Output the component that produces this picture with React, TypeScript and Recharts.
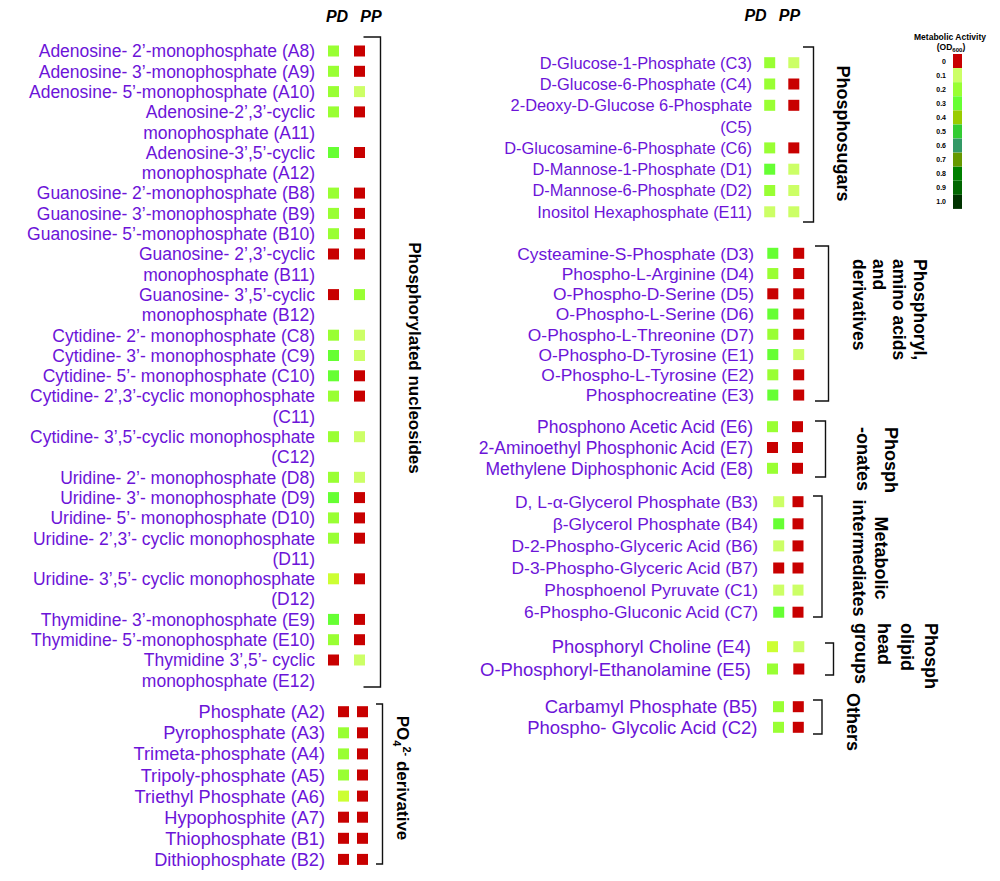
import React from "react";
import {
  Bar,
  BarChart,
  Cell,
  ReferenceArea,
  Scatter,
  ScatterChart,
  XAxis,
  YAxis,
} from "recharts";

const W = 1000;
const H = 881;
const FONT = '"Liberation Sans", Arial, Helvetica, sans-serif';
const PURPLE = "#6C14D8";

// colour key, OD600
const legendLevels = ["0", "0.1", "0.2", "0.3", "0.4", "0.5", "0.6", "0.7", "0.8", "0.9", "1.0"];
const legendColors = [
  "#C80000", "#CCFF66", "#99FF33", "#66FF33", "#99CC00", "#33CC33",
  "#339966", "#669900", "#008000", "#006600", "#003300",
];

// --- Phosphorylated nucleosides ---
const nucLabels = [
  "Adenosine- 2’-monophosphate (A8)",
  "Adenosine- 3’-monophosphate (A9)",
  "Adenosine- 5’-monophosphate (A10)",
  "Adenosine-2’,3’-cyclic\nmonophosphate (A11)",
  "Adenosine-3’,5’-cyclic\nmonophosphate (A12)",
  "Guanosine- 2’-monophosphate (B8)",
  "Guanosine- 3’-monophosphate (B9)",
  "Guanosine- 5’-monophosphate (B10)",
  "Guanosine- 2’,3’-cyclic\nmonophosphate (B11)",
  "Guanosine- 3’,5’-cyclic\nmonophosphate (B12)",
  "Cytidine- 2’- monophosphate (C8)",
  "Cytidine- 3’- monophosphate (C9)",
  "Cytidine- 5’- monophosphate (C10)",
  "Cytidine- 2’,3’-cyclic monophosphate\n(C11)",
  "Cytidine- 3’,5’-cyclic monophosphate\n(C12)",
  "Uridine- 2’- monophosphate (D8)",
  "Uridine- 3’- monophosphate (D9)",
  "Uridine- 5’- monophosphate (D10)",
  "Uridine- 2’,3’- cyclic monophosphate\n(D11)",
  "Uridine- 3’,5’- cyclic monophosphate\n(D12)",
  "Thymidine- 3’-monophosphate (E9)",
  "Thymidine- 5’-monophosphate (E10)",
  "Thymidine 3’,5’- cyclic\nmonophosphate (E12)",
];
const nucPD = [0.2, 0.2, 0.2, 0.2, 0.3, 0.2, 0.2, 0.2, 0, 0, 0.2, 0.3, 0.3, 0.2, 0.2, 0.2, 0.3, 0.2, 0.2, 0.15, 0.3, 0.2, 0];
const nucPP = [0, 0, 0.1, 0, 0, 0, 0, 0, 0, 0.2, 0.1, 0.1, 0, 0, 0.1, 0.1, 0, 0, 0, 0, 0, 0, 0.1];

// --- PO4 derivatives ---
const po4Labels = [
  "Phosphate (A2)", "Pyrophosphate (A3)", "Trimeta-phosphate (A4)", "Tripoly-phosphate (A5)",
  "Triethyl Phosphate (A6)", "Hypophosphite (A7)", "Thiophosphate (B1)", "Dithiophosphate (B2)",
];
const po4PD = [0, 0.2, 0.2, 0.2, 0.15, 0, 0, 0];
const po4PP = [0, 0, 0, 0, 0, 0, 0, 0];

// --- Phosphosugars ---
const sugarLabels = [
  "D-Glucose-1-Phosphate (C3)", "D-Glucose-6-Phosphate (C4)", "2-Deoxy-D-Glucose 6-Phosphate\n(C5)",
  "D-Glucosamine-6-Phosphate (C6)", "D-Mannose-1-Phosphate (D1)", "D-Mannose-6-Phosphate (D2)",
  "Inositol Hexaphosphate (E11)",
];
const sugarPD = [0.2, 0.2, 0.2, 0.2, 0.3, 0.2, 0.1];
const sugarPP = [0.1, 0, 0, 0, 0.1, 0.1, 0.1];

// --- Phosphoryl amino acids ---
const aminoLabels = [
  "Cysteamine-S-Phosphate (D3)", "Phospho-L-Arginine (D4)", "O-Phospho-D-Serine (D5)",
  "O-Phospho-L-Serine (D6)", "O-Phospho-L-Threonine (D7)", "O-Phospho-D-Tyrosine (E1)",
  "O-Phospho-L-Tyrosine (E2)", "Phosphocreatine (E3)",
];
const aminoPD = [0.3, 0.2, 0, 0.3, 0.2, 0.3, 0.2, 0.3];
const aminoPP = [0, 0, 0, 0, 0, 0.1, 0, 0];

// --- Phosphonates ---
const onateLabels = ["Phosphono Acetic Acid (E6)", "2-Aminoethyl Phosphonic Acid (E7)", "Methylene Diphosphonic Acid (E8)"];
const onatePD = [0.2, 0, 0.2];
const onatePP = [0, 0, 0];

// --- Metabolic intermediates ---
const metabLabels = [
  "D, L-α-Glycerol Phosphate (B3)", "β-Glycerol Phosphate (B4)", "D-2-Phospho-Glyceric Acid (B6)",
  "D-3-Phospho-Glyceric Acid (B7)", "Phosphoenol Pyruvate (C1)", "6-Phospho-Gluconic Acid (C7)",
];
const metabPD = [0.1, 0.3, 0.1, 0, 0.1, 0.3];
const metabPP = [0, 0, 0, 0, 0.1, 0];

// --- Phospholipid head groups ---
const lipidLabels = ["Phosphoryl Choline (E4)", "O-Phosphoryl-Ethanolamine (E5)"];
const lipidPD = [0.15, 0.2];
const lipidPP = [0.1, 0];

// --- Others ---
const otherLabels = ["Carbamyl Phosphate (B5)", "Phospho- Glycolic Acid (C2)"];
const otherPD = [0.2, 0.2];
const otherPP = [0, 0];

function colorOf(v: number) {
  if (v === 0.15) return "#CCFF33"; // yellow-green between key steps
  return legendColors[Math.round(v * 10)];
}

type Seg = { t: string; dy?: number; size?: number };
type Layout = {
  firstY: number;
  lineH: number;
  pdX: number;
  ppX: number;
  textRight: number;
  fontSize: number;
  bx1: number;
  bx2: number;
  by1: number;
  by2: number;
  title: Seg[][];
  tx: number;
  ty: number;
  tStep: number;
  tAnchor: "start" | "middle";
  tSize: number;
};

const nucLay: Layout = {
  firstY: 51, lineH: 20.3, pdX: 333.5, ppX: 359.5, textRight: 315, fontSize: 17.5,
  bx1: 363.5, bx2: 380.5, by1: 37, by2: 687,
  title: [[{ t: "Phosphorylated nucleosides" }]], tx: 415, ty: 358, tStep: 0, tAnchor: "middle", tSize: 17,
};
const po4Lay: Layout = {
  firstY: 711.7, lineH: 21.1, pdX: 343.5, ppX: 362.5, textRight: 325, fontSize: 18.2,
  bx1: 376, bx2: 382.5, by1: 704, by2: 864,
  title: [[{ t: "PO" }, { t: "4", dy: 4, size: 11 }, { t: "2-", dy: -10, size: 11 }, { t: " derivative", dy: 6 }]],
  tx: 403, ty: 778, tStep: 0, tAnchor: "middle", tSize: 17,
};
const sugarLay: Layout = {
  firstY: 62.7, lineH: 21.3, pdX: 769.7, ppX: 793.8, textRight: 752, fontSize: 16.4,
  bx1: 803, bx2: 813.5, by1: 47, by2: 222,
  title: [[{ t: "Phosphosugars" }]], tx: 843, ty: 133.5, tStep: 0, tAnchor: "middle", tSize: 18,
};
const aminoLay: Layout = {
  firstY: 253.3, lineH: 20.25, pdX: 772.8, ppX: 798.7, textRight: 754, fontSize: 17.4,
  bx1: 815, bx2: 828.5, by1: 246, by2: 401,
  title: [[{ t: "Phosphoryl," }], [{ t: "amino acids" }], [{ t: "and" }], [{ t: "derivatives" }]],
  tx: 920, ty: 259, tStep: 20.3, tAnchor: "start", tSize: 17.5,
};
const onateLay: Layout = {
  firstY: 426.7, lineH: 20.8, pdX: 772.5, ppX: 797.5, textRight: 753, fontSize: 17.5,
  bx1: 815, bx2: 825.5, by1: 421, by2: 477,
  title: [[{ t: "Phosph" }], [{ t: "-onates" }]], tx: 891, ty: 427, tStep: 28, tAnchor: "start", tSize: 18,
};
const metabLay: Layout = {
  firstY: 501.7, lineH: 22.1, pdX: 778.7, ppX: 798, textRight: 758, fontSize: 17.4,
  bx1: 813, bx2: 822, by1: 496, by2: 617,
  title: [[{ t: "Metabolic" }], [{ t: "intermediates" }]], tx: 881.5, ty: 558, tStep: 22, tAnchor: "middle", tSize: 18,
};
const lipidLay: Layout = {
  firstY: 646.7, lineH: 22.3, pdX: 772.5, ppX: 798.8, textRight: 751, fontSize: 18.4,
  bx1: 825, bx2: 833.5, by1: 643, by2: 675,
  title: [[{ t: "Phosph" }], [{ t: "olipid" }], [{ t: "head" }], [{ t: "groups" }]],
  tx: 931, ty: 623, tStep: 23.3, tAnchor: "start", tSize: 18,
};
const otherLay: Layout = {
  firstY: 706.7, lineH: 20.6, pdX: 778.5, ppX: 798.3, textRight: 757.5, fontSize: 18.5,
  bx1: 813, bx2: 822, by1: 700, by2: 734,
  title: [[{ t: "Others" }]], tx: 853, ty: 693, tStep: 0, tAnchor: "start", tSize: 18,
};

const Square = (props: any) => {
  const { cx, cy, payload } = props;
  const s = 11;
  return <rect x={cx - s / 2} y={cy - s / 2} width={s} height={s} fill={colorOf(payload.v)} />;
};

function Title({ lay }: { lay: Layout }) {
  const { tx, ty, tStep, tAnchor, tSize, title } = lay;
  return (
    <text
      transform={`translate(${tx},${ty}) rotate(90)`}
      textAnchor={tAnchor}
      fontWeight="bold"
      fontSize={tSize}
      fontFamily={FONT}
      fill="#000"
    >
      {title.map((segs, k) =>
        segs.map((sg, j) => (
          <tspan
            key={`${k}-${j}`}
            x={j === 0 ? 0 : undefined}
            dy={j === 0 ? (k === 0 ? 0.36 * tSize : tStep) : sg.dy ?? 0}
            fontSize={sg.size}
          >
            {sg.t}
          </tspan>
        ))
      )}
    </text>
  );
}

function Group({ labels, pd, pp, lay }: { labels: string[]; pd: number[]; pp: number[]; lay: Layout }) {
  const lines = labels.map((l) => l.split("\n"));
  const slots: number[] = [];
  let n = 0;
  lines.forEach((l) => {
    slots.push(n);
    n += l.length;
  });
  const unit = lay.ppX - lay.pdX;
  const plotLeft = lay.pdX - unit / 2;
  const plotTop = lay.firstY - lay.lineH / 2;
  const plotH = n * lay.lineH;
  const pdData = labels.map((_, i) => ({ x: 0, y: slots[i], v: pd[i] }));
  const ppData = labels.map((_, i) => ({ x: 1, y: slots[i], v: pp[i] }));
  const bySlot = new Map<number, string[]>(slots.map((s, i) => [s, lines[i]]));
  const toX = (px: number) => (px - lay.pdX) / unit;
  const toY = (py: number) => (py - lay.firstY) / lay.lineH;

  const renderTick = (p: any) => {
    const ls = bySlot.get(Number(p.payload.value)) || [];
    return (
      <text x={p.x} y={p.y} textAnchor="end" fill={PURPLE} fontSize={lay.fontSize} fontFamily={FONT}>
        {ls.map((ln, k) => (
          <tspan key={k} x={p.x} dy={k === 0 ? "0.36em" : lay.lineH}>
            {ln}
          </tspan>
        ))}
      </text>
    );
  };

  const renderBracket = (p: any) => {
    const x = Math.min(p.x, p.x + p.width);
    const w = Math.abs(p.width);
    const y = Math.min(p.y, p.y + p.height);
    const h = Math.abs(p.height);
    return (
      <g>
        <path d={`M${x},${y}H${x + w}V${y + h}H${x}`} fill="none" stroke="#111" strokeWidth={1.4} />
        <Title lay={lay} />
      </g>
    );
  };

  return (
    <div style={{ position: "absolute", left: 0, top: 0 }}>
      <ScatterChart
        width={W}
        height={H}
        margin={{ top: plotTop, bottom: H - plotTop - plotH, left: 0, right: W - plotLeft - 2 * unit }}
      >
        <XAxis type="number" dataKey="x" domain={[-0.5, 1.5]} allowDataOverflow hide />
        <YAxis
          type="number"
          dataKey="y"
          domain={[-0.5, n - 0.5]}
          allowDataOverflow
          reversed
          width={plotLeft}
          ticks={slots}
          interval={0}
          axisLine={false}
          tickLine={false}
          tickSize={0}
          tickMargin={plotLeft - lay.textRight}
          tick={renderTick}
        />
        <Scatter data={pdData} shape={Square} isAnimationActive={false} />
        <Scatter data={ppData} shape={Square} isAnimationActive={false} />
        <ReferenceArea
          x1={toX(lay.bx1)}
          x2={toX(lay.bx2)}
          y1={toY(lay.by1)}
          y2={toY(lay.by2)}
          ifOverflow="visible"
          shape={renderBracket}
        />
      </ScatterChart>
    </div>
  );
}

function ColourKey() {
  const data = legendLevels.map((l) => ({ level: l, span: 1 }));
  return (
    <div style={{ position: "absolute", left: 0, top: 0 }}>
      <BarChart
        layout="vertical"
        width={W}
        height={H}
        data={data}
        barCategoryGap={0}
        margin={{ top: 54, bottom: H - 209, left: 953 - 24, right: W - 962 }}
      >
        <XAxis type="number" domain={[0, 1]} hide />
        <YAxis
          type="category"
          dataKey="level"
          width={24}
          interval={0}
          axisLine={false}
          tickLine={false}
          tickSize={0}
          tickMargin={7}
          tick={{ fontSize: 7, fontWeight: "bold", fill: "#000", fontFamily: FONT }}
        />
        <Bar dataKey="span" isAnimationActive={false}>
          {data.map((_, i) => (
            <Cell key={i} fill={legendColors[i]} />
          ))}
        </Bar>
      </BarChart>
    </div>
  );
}

export default function App() {
  return (
    <div style={{ position: "absolute", left: 0, top: 0, width: W, height: H, background: "#fff", fontFamily: FONT }}>
      <Group labels={nucLabels} pd={nucPD} pp={nucPP} lay={nucLay} />
      <Group labels={po4Labels} pd={po4PD} pp={po4PP} lay={po4Lay} />
      <Group labels={sugarLabels} pd={sugarPD} pp={sugarPP} lay={sugarLay} />
      <Group labels={aminoLabels} pd={aminoPD} pp={aminoPP} lay={aminoLay} />
      <Group labels={onateLabels} pd={onatePD} pp={onatePP} lay={onateLay} />
      <Group labels={metabLabels} pd={metabPD} pp={metabPP} lay={metabLay} />
      <Group labels={lipidLabels} pd={lipidPD} pp={lipidPP} lay={lipidLay} />
      <Group labels={otherLabels} pd={otherPD} pp={otherPP} lay={otherLay} />
      <ColourKey />
      <svg width={W} height={H} style={{ position: "absolute", left: 0, top: 0, pointerEvents: "none" }}>
        <g fontFamily={FONT} fontWeight="bold" fontStyle="italic" fontSize={16} fill="#000" textAnchor="middle">
          <text x={337} y={22}>PD</text>
          <text x={371} y={22}>PP</text>
          <text x={755.5} y={21}>PD</text>
          <text x={789.5} y={21}>PP</text>
        </g>
        <g fontFamily={FONT} fontWeight="bold" fill="#000" textAnchor="middle">
          <text x={950} y={40} fontSize={8.5}>Metabolic Activity</text>
          <text x={951} y={50} fontSize={8.5}>
            (OD<tspan fontSize={6} dy={2}>600</tspan>
            <tspan dy={-2}>)</tspan>
          </text>
        </g>
      </svg>
    </div>
  );
}
